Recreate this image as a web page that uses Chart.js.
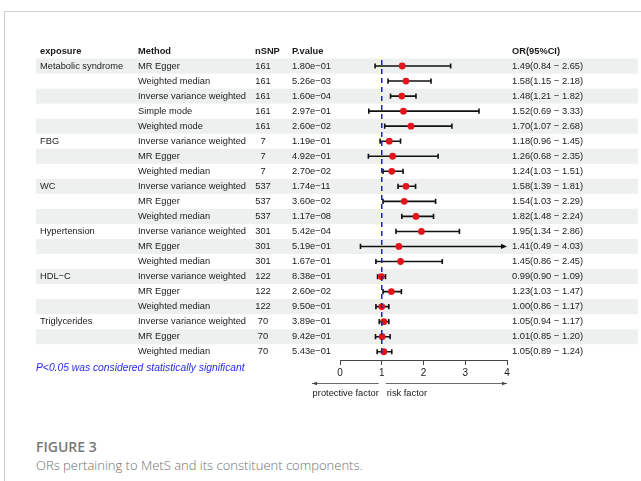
<!DOCTYPE html>
<html>
<head>
<meta charset="utf-8">
<script src="https://cdn.jsdelivr.net/npm/chart.js@4"></script>
<style>
  body { margin: 0; background: #fff; width: 641px; height: 481px; overflow: hidden; }
  #frame { position: absolute; left: 4px; top: 11px; width: 640px; height: 480px;
           border-top: 1px solid #cfcfcf; border-left: 1px solid #cfcfcf; }
  #forest { position: absolute; left: 0; top: 0; }
  .figno { position: absolute; left: 36px; top: 437px; font: 600 14px "Open Sans"; color: #777; }
  .figcap { position: absolute; left: 36px; top: 456px; font: 300 13px "Open Sans"; color: #707070; }
</style>
</head>
<body>
<div id="frame"></div>
<canvas id="forest" width="641" height="420"></canvas>
<div class="figno">FIGURE 3</div>
<div class="figcap">ORs pertaining to MetS and its constituent components.</div>
<script>
const exposure = ['Metabolic syndrome', '', '', '', '', 'FBG', '', '', 'WC', '', '',
    'Hypertension', '', '', 'HDL\u2212C', '', '', 'Triglycerides', '', ''];
const method = ['MR Egger', 'Weighted median', 'Inverse variance weighted', 'Simple mode', 'Weighted mode',
    'Inverse variance weighted', 'MR Egger', 'Weighted median',
    'Inverse variance weighted', 'MR Egger', 'Weighted median',
    'Inverse variance weighted', 'MR Egger', 'Weighted median',
    'Inverse variance weighted', 'MR Egger', 'Weighted median',
    'Inverse variance weighted', 'MR Egger', 'Weighted median'];
const nSNP = [161, 161, 161, 161, 161, 7, 7, 7, 537, 537, 537, 301, 301, 301, 122, 122, 122, 70, 70, 70];
const pValue = ['1.80e\u221201', '5.26e\u221203', '1.60e\u221204', '2.97e\u221201', '2.60e\u221202',
    '1.19e\u221201', '4.92e\u221201', '2.70e\u221202',
    '1.74e\u221211', '3.60e\u221202', '1.17e\u221208',
    '5.42e\u221204', '5.19e\u221201', '1.67e\u221201',
    '8.38e\u221201', '2.60e\u221202', '9.50e\u221201',
    '3.89e\u221201', '9.42e\u221201', '5.43e\u221201'];
const orValue = [1.49, 1.58, 1.48, 1.52, 1.70, 1.18, 1.26, 1.24, 1.58, 1.54, 1.82,
    1.95, 1.41, 1.45, 0.99, 1.23, 1.00, 1.05, 1.01, 1.05];
const ciLower = [0.84, 1.15, 1.21, 0.69, 1.07, 0.96, 0.68, 1.03, 1.39, 1.03, 1.48,
    1.34, 0.49, 0.86, 0.90, 1.03, 0.86, 0.94, 0.85, 0.89];
const ciUpper = [2.65, 2.18, 1.82, 3.33, 2.68, 1.45, 2.35, 1.51, 1.81, 2.29, 2.24,
    2.86, 4.03, 2.45, 1.09, 1.47, 1.17, 1.17, 1.20, 1.24];
const xTicks = [0, 1, 2, 3, 4];
const headers = ['exposure', 'Method', 'nSNP', 'P.value', 'OR(95%CI)'];

const TXT = '9.3px "Liberation Sans", Arial, sans-serif';
const BOLD = 'bold 9.3px "Liberation Sans", Arial, sans-serif';

function fmtOR(i) {
    return orValue[i].toFixed(2) + '(' + ciLower[i].toFixed(2) + ' \u2212 ' + ciUpper[i].toFixed(2) + ')';
}

// table text + stripes, drawn around the plot
const tablePlugin = {
    id: 'table',
    beforeDraw(chart) {
        const ctx = chart.ctx, y = chart.scales.y;
        const h = y.getPixelForValue(1) - y.getPixelForValue(0);
        ctx.save();
        ctx.fillStyle = '#eef0f0';
        method.forEach((m, i) => {
            if (i % 2 === 0) {
                ctx.fillRect(36, y.getPixelForValue(i) - h / 2, 602, h);
            }
        });
        ctx.restore();
    },
    afterDraw(chart) {
        const ctx = chart.ctx, x = chart.scales.x, y = chart.scales.y;
        const area = chart.chartArea;
        ctx.save();
        ctx.fillStyle = '#1a1a1a';
        ctx.textBaseline = 'middle';
        // header
        const hy = y.getPixelForValue(-1);
        ctx.font = BOLD;
        ctx.fillText(headers[0], 40, hy);
        ctx.fillText(headers[1], 138, hy);
        ctx.fillText(headers[2], 255, hy);
        ctx.fillText(headers[3], 292, hy);
        ctx.fillText(headers[4], 512, hy);
        ctx.font = TXT;
        method.forEach((m, i) => {
            const ry = y.getPixelForValue(i);
            ctx.textAlign = 'left';
            ctx.fillText(exposure[i], 40, ry);
            ctx.fillText(m, 138, ry);
            ctx.fillText(pValue[i], 292, ry);
            ctx.fillText(fmtOR(i), 512, ry);
            ctx.textAlign = 'center';
            ctx.fillText(String(nSNP[i]), 263, ry);
        });
        // note
        ctx.textAlign = 'left';
        ctx.fillStyle = '#2a2ae6';
        ctx.font = 'italic 10.3px "Liberation Sans", Arial, sans-serif';
        ctx.fillText('P<0.05 was considered statistically significant', 36, area.bottom + 8);
        // direction arrows
        const one = x.getPixelForValue(1);
        const ay = area.bottom + 23.5;
        ctx.strokeStyle = '#444';
        ctx.fillStyle = '#444';
        ctx.lineWidth = 0.8;
        ctx.beginPath();
        ctx.moveTo(312, ay); ctx.lineTo(one - 3, ay);
        ctx.moveTo(one + 4, ay); ctx.lineTo(x.getPixelForValue(4), ay);
        ctx.stroke();
        ctx.beginPath();
        ctx.moveTo(312, ay); ctx.lineTo(317, ay - 1.8); ctx.lineTo(317, ay + 1.8); ctx.closePath();
        ctx.fill();
        const xr = x.getPixelForValue(4);
        ctx.beginPath();
        ctx.moveTo(xr, ay); ctx.lineTo(xr - 5, ay - 1.8); ctx.lineTo(xr - 5, ay + 1.8); ctx.closePath();
        ctx.fill();
        ctx.fillStyle = '#1a1a1a';
        ctx.font = TXT;
        ctx.textAlign = 'right';
        ctx.fillText('protective factor', one - 3, area.bottom + 33);
        ctx.textAlign = 'left';
        ctx.fillText('risk factor', one + 5, area.bottom + 33);
        ctx.restore();
    }
};

// confidence intervals under the points, reference line over them
const ciPlugin = {
    id: 'ci',
    beforeDatasetsDraw(chart) {
        const ctx = chart.ctx, x = chart.scales.x, y = chart.scales.y;
        const xmax = x.max;
        ctx.save();
        ctx.strokeStyle = '#111';
        ctx.fillStyle = '#111';
        ctx.lineWidth = 1.6;
        ciLower.forEach((lo, i) => {
            const ry = y.getPixelForValue(i);
            const x0 = x.getPixelForValue(lo);
            const clipped = ciUpper[i] > xmax;
            const x1 = x.getPixelForValue(Math.min(ciUpper[i], xmax));
            ctx.beginPath();
            ctx.moveTo(x0, ry); ctx.lineTo(clipped ? x1 - 4 : x1, ry);
            ctx.moveTo(x0, ry - 2.6); ctx.lineTo(x0, ry + 2.6);
            if (!clipped) { ctx.moveTo(x1, ry - 2.6); ctx.lineTo(x1, ry + 2.6); }
            ctx.stroke();
            if (clipped) {
                ctx.beginPath();
                ctx.moveTo(x1, ry); ctx.lineTo(x1 - 6, ry - 2.6); ctx.lineTo(x1 - 6, ry + 2.6);
                ctx.closePath();
                ctx.fill();
            }
        });
        ctx.restore();
    },
    afterDatasetsDraw(chart) {
        const ctx = chart.ctx, x = chart.scales.x, area = chart.chartArea;
        const px = x.getPixelForValue(1);
        ctx.save();
        ctx.strokeStyle = '#1a1ae0';
        ctx.lineWidth = 1.5;
        ctx.setLineDash([5, 4]);
        ctx.beginPath();
        ctx.moveTo(px, area.top);
        ctx.lineTo(px, area.bottom - 3);
        ctx.stroke();
        ctx.restore();
    }
};

new Chart(document.getElementById('forest'), {
    type: 'scatter',
    data: {
        datasets: [{
            data: orValue.map((v, i) => ({ x: v, y: i })),
            backgroundColor: '#e3141b',
            borderColor: '#e3141b',
            pointRadius: 3.4,
            pointBorderWidth: 0
        }]
    },
    options: {
        responsive: false,
        animation: false,
        events: [],
        layout: { padding: { left: 340, right: 134, top: 60, bottom: 40 } },
        plugins: { legend: { display: false }, tooltip: { enabled: false } },
        scales: {
            x: {
                type: 'linear',
                min: xTicks[0],
                max: xTicks[xTicks.length - 1],
                afterBuildTicks(scale) { scale.ticks = xTicks.map(v => ({ value: v })); },
                afterFit(scale) { scale.height = 20; },
                border: { color: '#444', width: 1 },
                grid: { drawOnChartArea: false, drawTicks: true, tickLength: 5, color: '#444' },
                ticks: { padding: 2, color: '#1a1a1a', font: { family: '"Liberation Sans", Arial', size: 10 } }
            },
            y: {
                display: false,
                reverse: true,
                min: -0.4,
                max: 19.55
            }
        }
    },
    plugins: [tablePlugin, ciPlugin]
});
</script>
</body>
</html>
